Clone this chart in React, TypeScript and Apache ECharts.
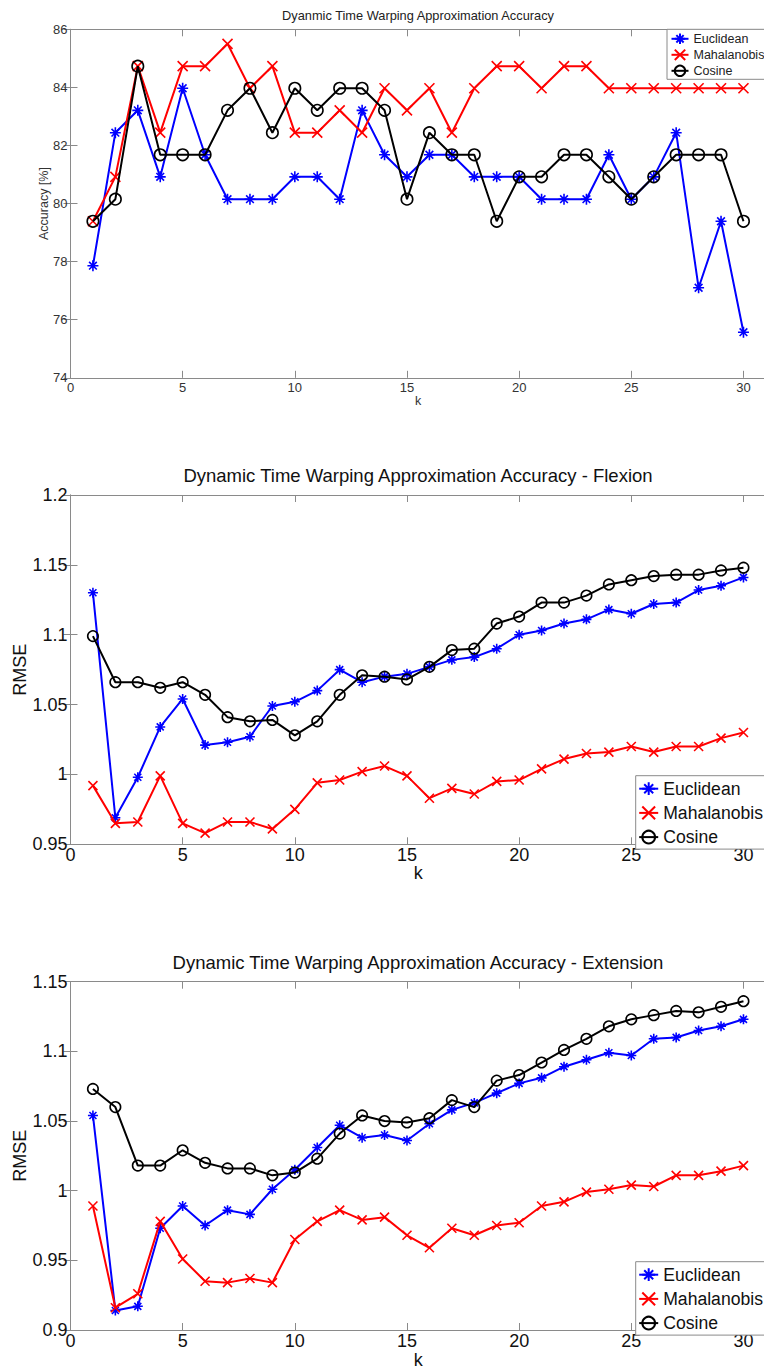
import React, { useEffect, useRef } from "react";
import * as echarts from "echarts";

const kValues = [1, 2, 3, 4, 5, 6, 7, 8, 9, 10, 11, 12, 13, 14, 15, 16, 17, 18, 19, 20, 21, 22, 23, 24, 25, 26, 27, 28, 29, 30];

const seriesNames = ["Euclidean", "Mahalanobis", "Cosine"];
const chartTitles = [
  "Dyanmic Time Warping Approximation Accuracy",
  "Dynamic Time Warping Approximation Accuracy - Flexion",
  "Dynamic Time Warping Approximation Accuracy - Extension",
];
const yAxisNames = ["Accuracy [%]", "RMSE", "RMSE"];
const xAxisName = "k";
const xTickValues = [0, 5, 10, 15, 20, 25, 30];

// Chart 1: accuracy [%]
const accEuclidean = [77.86, 82.44, 83.21, 80.92, 83.97, 81.68, 80.15, 80.15, 80.15, 80.92, 80.92, 80.15, 83.21, 81.68, 80.92, 81.68, 81.68, 80.92, 80.92, 80.92, 80.15, 80.15, 80.15, 81.68, 80.15, 80.92, 82.44, 77.1, 79.39, 75.57];
const accMahalanobis = [79.39, 80.92, 84.73, 82.44, 84.73, 84.73, 85.5, 83.97, 84.73, 82.44, 82.44, 83.21, 82.44, 83.97, 83.21, 83.97, 82.44, 83.97, 84.73, 84.73, 83.97, 84.73, 84.73, 83.97, 83.97, 83.97, 83.97, 83.97, 83.97, 83.97];
const accCosine = [79.39, 80.15, 84.73, 81.68, 81.68, 81.68, 83.21, 83.97, 82.44, 83.97, 83.21, 83.97, 83.97, 83.21, 80.15, 82.44, 81.68, 81.68, 79.39, 80.92, 80.92, 81.68, 81.68, 80.92, 80.15, 80.92, 81.68, 81.68, 81.68, 79.39];

// Chart 2: RMSE flexion
const flexEuclidean = [1.13, 0.969, 0.998, 1.034, 1.054, 1.021, 1.023, 1.027, 1.049, 1.052, 1.06, 1.075, 1.066, 1.07, 1.072, 1.077, 1.082, 1.084, 1.09, 1.1, 1.103, 1.108, 1.111, 1.118, 1.115, 1.122, 1.123, 1.132, 1.135, 1.141];
const flexMahalanobis = [0.992, 0.965, 0.966, 0.999, 0.965, 0.958, 0.966, 0.966, 0.961, 0.975, 0.994, 0.996, 1.002, 1.006, 0.999, 0.983, 0.99, 0.986, 0.995, 0.996, 1.004, 1.011, 1.015, 1.016, 1.02, 1.016, 1.02, 1.02, 1.026, 1.03];
const flexCosine = [1.099, 1.066, 1.066, 1.062, 1.066, 1.057, 1.041, 1.038, 1.039, 1.028, 1.038, 1.057, 1.071, 1.07, 1.068, 1.077, 1.089, 1.09, 1.108, 1.113, 1.123, 1.123, 1.128, 1.136, 1.139, 1.142, 1.143, 1.143, 1.146, 1.148];

// Chart 3: RMSE extension
const extEuclidean = [1.054, 0.914, 0.917, 0.973, 0.989, 0.975, 0.986, 0.983, 1.001, 1.015, 1.031, 1.047, 1.038, 1.04, 1.036, 1.048, 1.058, 1.063, 1.07, 1.077, 1.081, 1.089, 1.094, 1.099, 1.097, 1.109, 1.11, 1.115, 1.118, 1.123];
const extMahalanobis = [0.989, 0.916, 0.926, 0.978, 0.951, 0.935, 0.934, 0.937, 0.934, 0.965, 0.978, 0.986, 0.979, 0.981, 0.968, 0.959, 0.973, 0.968, 0.975, 0.977, 0.989, 0.992, 0.999, 1.001, 1.004, 1.003, 1.011, 1.011, 1.014, 1.018];
const extCosine = [1.073, 1.06, 1.018, 1.018, 1.029, 1.02, 1.016, 1.016, 1.011, 1.013, 1.023, 1.041, 1.054, 1.05, 1.049, 1.052, 1.065, 1.06, 1.079, 1.083, 1.092, 1.101, 1.109, 1.118, 1.123, 1.126, 1.129, 1.128, 1.132, 1.136];

const yRanges = [
  { min: 74, max: 86, interval: 2 },
  { min: 0.95, max: 1.2, interval: 0.05 },
  { min: 0.9, max: 1.15, interval: 0.05 },
];

const FONT = "'Liberation Sans', Arial, Helvetica, sans-serif";
const AXIS_COLOR = "#8a8a8a";
const BLUE = "#0000ff";
const RED = "#ff0000";
const BLACK = "#000000";
const STAR = "path://M5 0L5 10M0 5L10 5M1.5 1.5L8.5 8.5M8.5 1.5L1.5 8.5";
const CROSS = "path://M0 0L10 10M10 0L0 10";

export default function App() {
  const ref = useRef<HTMLDivElement>(null);

  useEffect(() => {
    if (!ref.current) return;
    const chart = echarts.init(ref.current, null, { renderer: "svg" });

    const grids = [
      { left: 70.5, top: 29.3, width: 695.4, height: 348.5 },
      { left: 70.5, top: 495, width: 695.4, height: 349.3 },
      { left: 70.5, top: 981.7, width: 695.4, height: 348.3 },
    ];
    const small = [true, false, false];
    const titleTops = [8.5, 465.5, 952.5];
    const legendTops = [29.3, 775.7, 1261.7];
    const legendLefts = [667, 635.7, 635.7];
    const xNameGaps = [16.5, 19.5, 21.5];
    const xNameLineHeights = [13, 18, 16];
    const yNameGaps = [20, 42, 42];

    const allData = [
      [accEuclidean, accMahalanobis, accCosine],
      [flexEuclidean, flexMahalanobis, flexCosine],
      [extEuclidean, extMahalanobis, extCosine],
    ];

    const xAxes: any[] = [];
    const yAxes: any[] = [];
    const series: any[] = [];
    const titles: any[] = [];
    const legends: any[] = [];

    grids.forEach((g, gi) => {
      const sm = small[gi];
      const tickFs = sm ? 13 : 18;
      const nameFs = sm ? 12.5 : 18;
      const tickColor = sm ? "#333" : "#111";
      const axisLine = { show: true, lineStyle: { color: AXIS_COLOR, width: 1 } };
      const axisTick = { show: true, inside: true, length: 7, lineStyle: { color: AXIS_COLOR, width: 1 } };
      xAxes.push({
        type: "value",
        gridIndex: gi,
        position: "bottom",
        min: 0,
        max: 31,
        interval: 5,
        axisLine,
        axisTick,
        splitLine: { show: false },
        axisLabel: {
          margin: sm ? 3 : 2,
          fontSize: tickFs,
          color: tickColor,
          fontFamily: FONT,
          formatter: (v: number) => (xTickValues.includes(v) ? String(v) : ""),
        },
        name: xAxisName,
        nameLocation: "middle",
        nameGap: xNameGaps[gi],
        nameMoveOverlap: false,
        nameTextStyle: { fontSize: nameFs, lineHeight: xNameLineHeights[gi], color: tickColor, fontFamily: FONT },
      });
      xAxes.push({
        type: "value",
        gridIndex: gi,
        position: "top",
        min: 0,
        max: 31,
        interval: 5,
        axisLine,
        axisTick,
        splitLine: { show: false },
        axisLabel: { show: false },
      });
      const yr = yRanges[gi];
      yAxes.push({
        type: "value",
        gridIndex: gi,
        position: "left",
        min: yr.min,
        max: yr.max,
        interval: yr.interval,
        axisLine,
        axisTick,
        splitLine: { show: false },
        axisLabel: {
          margin: 3,
          fontSize: tickFs,
          color: tickColor,
          fontFamily: FONT,
          formatter: (v: number) => String(parseFloat(v.toFixed(4))),
        },
        name: yAxisNames[gi],
        nameLocation: "middle",
        nameGap: yNameGaps[gi],
        nameMoveOverlap: false,
        nameTextStyle: { fontSize: nameFs, color: tickColor, fontFamily: FONT },
      });
      yAxes.push({
        type: "value",
        gridIndex: gi,
        position: "right",
        min: yr.min,
        max: yr.max,
        interval: yr.interval,
        axisLine,
        axisTick,
        splitLine: { show: false },
        axisLabel: { show: false },
      });

      const styles = [
        { color: BLUE, symbol: STAR, fill: BLUE, size: sm ? 11 : 10 },
        { color: RED, symbol: CROSS, fill: RED, size: sm ? 10 : 9 },
        { color: BLACK, symbol: "circle", fill: "rgba(255,255,255,0)", size: sm ? 11.5 : 10.5 },
      ];
      seriesNames.forEach((name, si) => {
        const st = styles[si];
        series.push({
          type: "line",
          name,
          xAxisIndex: gi * 2,
          yAxisIndex: gi * 2,
          data: kValues.map((k, i) => [k, allData[gi][si][i]]),
          symbol: st.symbol,
          symbolSize: st.size,
          showAllSymbol: true,
          lineStyle: { color: st.color, width: 2 },
          itemStyle: { color: st.fill, borderColor: st.color, borderWidth: 1.6 },
          emphasis: { disabled: true },
          silent: true,
          z: 2 + si,
        });
      });

      titles.push({
        text: chartTitles[gi],
        left: 418,
        top: titleTops[gi],
        textAlign: "center",
        padding: 0,
        textStyle: { fontSize: sm ? 12.8 : 18.5, fontWeight: "normal", color: sm ? "#222" : "#111", fontFamily: FONT },
      });

      legends.push({
        data: seriesNames,
        left: legendLefts[gi],
        top: legendTops[gi],
        orient: "vertical",
        backgroundColor: "#fff",
        borderColor: AXIS_COLOR,
        borderWidth: 1,
        borderRadius: 0,
        padding: sm ? [3, 6, 2, 3.5] : [4, 6, 3, 2.5],
        itemWidth: sm ? 17 : 19,
        itemHeight: sm ? 13 : 16,
        itemGap: sm ? 3 : 6.2,
        selectedMode: false,
        textStyle: { fontSize: sm ? 12.5 : 17.6, color: sm ? "#222" : "#111", fontFamily: FONT },
      });
    });

    chart.setOption({
      animation: false,
      backgroundColor: "#fff",
      title: titles,
      legend: legends,
      grid: grids.map((g) => ({ ...g, outerBoundsMode: "none", containLabel: false })),
      xAxis: xAxes,
      yAxis: yAxes,
      series,
    });

    return () => chart.dispose();
  }, []);

  return (
    <div
      ref={ref}
      style={{ position: "absolute", left: 0, top: 0, width: 764, height: 1368, background: "#fff" }}
    />
  );
}
